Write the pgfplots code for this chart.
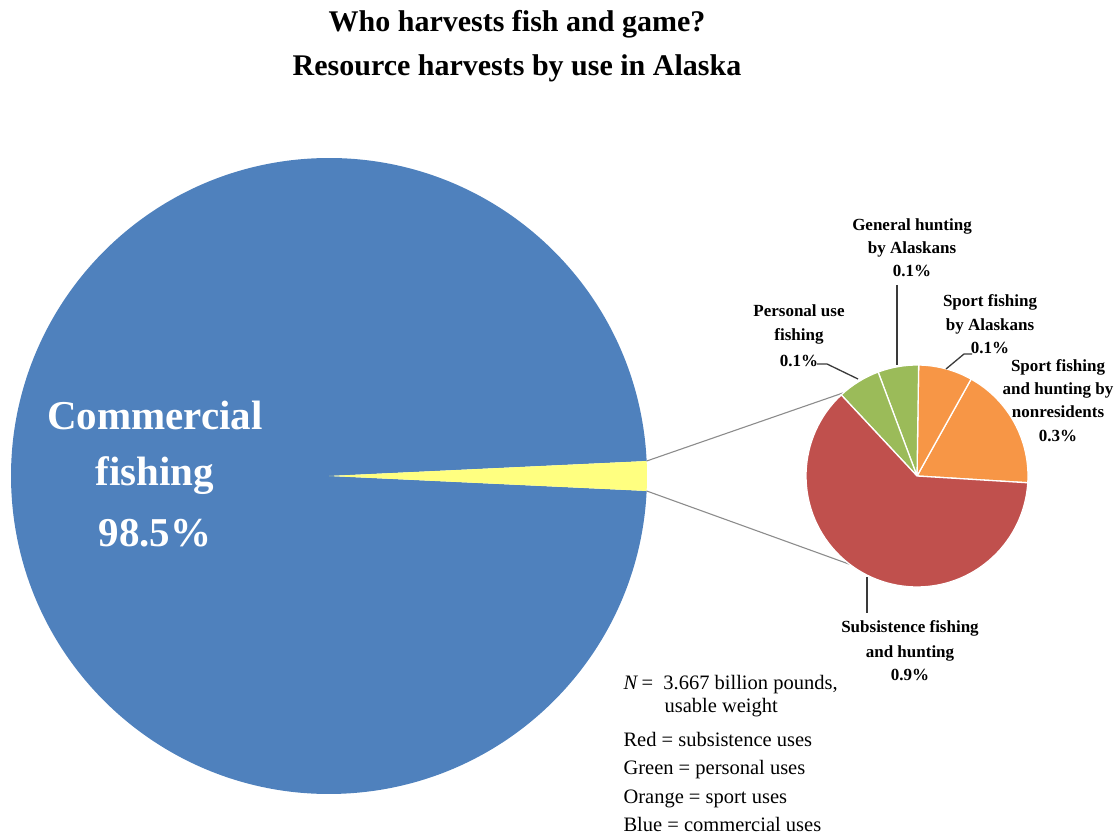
\documentclass[border=0pt]{standalone}
\usepackage{pgfplots}
\pgfplotsset{compat=1.18}
\usepackage{fontspec}
\setmainfont{Liberation Serif}
\definecolor{cblue}{HTML}{4F81BD}
\definecolor{cyellow}{HTML}{FFFF80}
\definecolor{cred}{HTML}{C0504D}
\definecolor{cgreen}{HTML}{9BBB59}
\definecolor{corange}{HTML}{F79646}
\definecolor{cgray}{HTML}{8C8C8C}
\definecolor{cdark}{HTML}{3A3A3A}
\newcommand\titlefont{\fontsize{30bp}{36bp}\selectfont\bfseries}
\newcommand\bigfont{\fontsize{41bp}{48bp}\selectfont\bfseries}
\newcommand\lblfont{\fontsize{17bp}{20bp}\selectfont\bfseries}
\newcommand\notefont{\fontsize{20.5bp}{24bp}\selectfont}
\begin{document}
\begin{tikzpicture}
% ---- data (percent of total harvest) ----
\def\vComm{98.5}   % Commercial fishing
\def\vOther{1.5}   % all other uses (exploded)
\def\vNonres{0.268}  % Sport fishing and hunting by nonresidents (0.3%)
\def\vSportAK{0.118} % Sport fishing by Alaskans (0.1%)
\def\vGenHunt{0.089} % General hunting by Alaskans (0.1%)
\def\vPersonal{0.094}% Personal use fishing (0.1%)
\def\vSubs{0.931}    % Subsistence fishing and hunting (0.9%)
\def\smallstart{-3.5}
% ---- geometry ----
\def\bx{329}\def\by{358}\def\br{318}
\def\sx{917}\def\sy{358}\def\sr{111}
\pgfmathsetmacro\bigHalf{360*\vOther/(\vComm+\vOther)/2}
\pgfmathsetmacro\bigEnd{360-\bigHalf}
\pgfmathsetmacro\mbigHalf{-\bigHalf}
\pgfmathsetmacro\sA{\smallstart}
\pgfmathsetmacro\sB{\sA+360*\vNonres/\vOther}
\pgfmathsetmacro\sC{\sB+360*\vSportAK/\vOther}
\pgfmathsetmacro\sD{\sC+360*\vGenHunt/\vOther}
\pgfmathsetmacro\sE{\sD+360*\vPersonal/\vOther}
\pgfmathsetmacro\sF{\sE+360*\vSubs/\vOther}
\pgfmathsetmacro\uxA{\bx+\br*cos(\bigHalf)}
\pgfmathsetmacro\uyA{\by+\br*sin(\bigHalf)}
\pgfmathsetmacro\lyA{\by-\br*sin(\bigHalf)}
\pgfmathsetmacro\uxB{\sx+\sr*cos(131.4)}
\pgfmathsetmacro\uyB{\sy+\sr*sin(131.4)}
\pgfmathsetmacro\lxB{\sx+\sr*cos(232.8)}
\pgfmathsetmacro\lyB{\sy+\sr*sin(232.8)}
\begin{axis}[scale only axis, width=1120bp, height=834bp,
  xmin=0, xmax=1120, ymin=0, ymax=834, hide axis, clip=false,
  at={(0,0)}, anchor=south west]
% big pie
\fill[cblue] (axis cs:\bx,\by) -- +(\bigHalf:\br bp) arc[start angle=\bigHalf, end angle=\bigEnd, radius=\br bp] -- cycle;
\fill[cyellow] (axis cs:\bx,\by) -- +(\mbigHalf:\br bp) arc[start angle=\mbigHalf, end angle=\bigHalf, radius=\br bp] -- cycle;
% connectors
\draw[cgray, line width=1.1bp] (axis cs:\uxA,\uyA) -- (axis cs:\uxB,\uyB);
\draw[cgray, line width=1.1bp] (axis cs:\uxA,\lyA) -- (axis cs:\lxB,\lyB);
% small pie
\filldraw[fill=corange, draw=white, line width=1.3bp] (axis cs:\sx,\sy) -- +(\sA:\sr bp) arc[start angle=\sA, end angle=\sB, radius=\sr bp] -- cycle;
\filldraw[fill=corange, draw=white, line width=1.3bp] (axis cs:\sx,\sy) -- +(\sB:\sr bp) arc[start angle=\sB, end angle=\sC, radius=\sr bp] -- cycle;
\filldraw[fill=cgreen, draw=white, line width=1.3bp] (axis cs:\sx,\sy) -- +(\sC:\sr bp) arc[start angle=\sC, end angle=\sD, radius=\sr bp] -- cycle;
\filldraw[fill=cgreen, draw=white, line width=1.3bp] (axis cs:\sx,\sy) -- +(\sD:\sr bp) arc[start angle=\sD, end angle=\sE, radius=\sr bp] -- cycle;
\filldraw[fill=cred, draw=white, line width=1.3bp] (axis cs:\sx,\sy) -- +(\sE:\sr bp) arc[start angle=\sE, end angle=\sF, radius=\sr bp] -- cycle;
% leaders
\draw[cdark, line width=1.3bp] (axis cs:897,549) -- (axis cs:897,469);
\draw[cdark, line width=1.3bp] (axis cs:817,470) -- (axis cs:827,470) -- (axis cs:858,455);
\draw[cdark, line width=1.3bp] (axis cs:972,480) -- (axis cs:964,480) -- (axis cs:946,465);
\draw[cdark, line width=1.3bp] (axis cs:867,257) -- (axis cs:867,221);
% title
\node[anchor=base, font=\titlefont] at (axis cs:517,802) {Who harvests fish and game?};
\node[anchor=base, font=\titlefont] at (axis cs:517,758) {Resource harvests by use in Alaska};
% big label
\node[anchor=base, font=\bigfont, text=white] at (axis cs:155,404) {Commercial};
\node[anchor=base, font=\bigfont, text=white] at (axis cs:155,348) {fishing};
\node[anchor=base, font=\bigfont, text=white] at (axis cs:155,287) {98.5\%};
% small labels
\node[anchor=base, font=\lblfont] at (axis cs:912,603) {General hunting};
\node[anchor=base, font=\lblfont] at (axis cs:912,580) {by Alaskans};
\node[anchor=base, font=\lblfont] at (axis cs:912,557) {0.1\%};
\node[anchor=base, font=\lblfont] at (axis cs:799,517) {Personal use};
\node[anchor=base, font=\lblfont] at (axis cs:799,493) {fishing};
\node[anchor=base, font=\lblfont] at (axis cs:799,467) {0.1\%};
\node[anchor=base, font=\lblfont] at (axis cs:990,527) {Sport fishing};
\node[anchor=base, font=\lblfont] at (axis cs:990,503) {by Alaskans};
\node[anchor=base, font=\lblfont] at (axis cs:990,480) {0.1\%};
\node[anchor=base, font=\lblfont] at (axis cs:1058,462) {Sport fishing};
\node[anchor=base, font=\lblfont] at (axis cs:1058,439) {and hunting by};
\node[anchor=base, font=\lblfont] at (axis cs:1058,416) {nonresidents};
\node[anchor=base, font=\lblfont] at (axis cs:1058,392) {0.3\%};
\node[anchor=base, font=\lblfont] at (axis cs:910,201) {Subsistence fishing};
\node[anchor=base, font=\lblfont] at (axis cs:910,176) {and hunting};
\node[anchor=base, font=\lblfont] at (axis cs:910,153) {0.9\%};
% notes
\node[anchor=base west, font=\notefont] at (axis cs:620,144) {\textit{N}\,= \ 3.667 billion pounds,};
\node[anchor=base west, font=\notefont] at (axis cs:661,121) {usable weight};
\node[anchor=base west, font=\notefont] at (axis cs:620,87) {Red = subsistence uses};
\node[anchor=base west, font=\notefont] at (axis cs:620,59) {Green = personal uses};
\node[anchor=base west, font=\notefont] at (axis cs:620,31) {Orange = sport uses};
\node[anchor=base west, font=\notefont] at (axis cs:620,3) {Blue = commercial uses};
\end{axis}
\pgfresetboundingbox
\path (0,0) rectangle (1120bp,834bp);
\end{tikzpicture}
\end{document}
